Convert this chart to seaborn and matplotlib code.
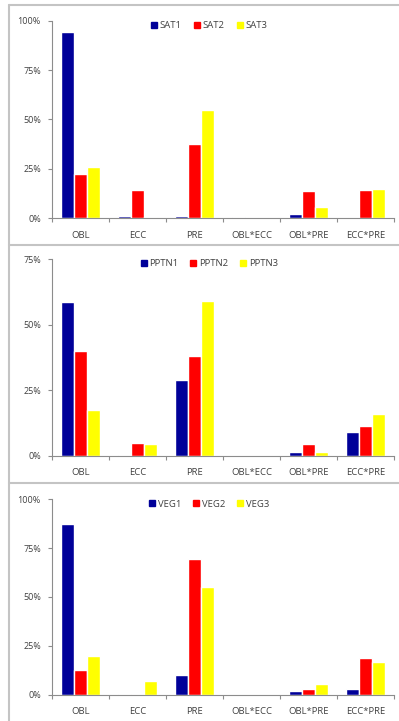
import numpy as np
import pandas as pd
import matplotlib
matplotlib.use("Agg")
import matplotlib.pyplot as plt
from matplotlib.lines import Line2D
from matplotlib.ticker import FixedLocator, PercentFormatter
import seaborn as sns

# Factor categories (x axis)
categories = ["OBL", "ECC", "PRE", "OBL*ECC", "OBL*PRE", "ECC*PRE"]

# Surface air temperature contributions (%)
sat_names = ["SAT1", "SAT2", "SAT3"]
sat1 = [94.4, 1.2, 1.2, 0.7, 2.0, 0.0]
sat2 = [22.4, 14.0, 37.4, 0.0, 13.5, 14.0]
sat3 = [25.8, 0.3, 54.5, 0.0, 5.6, 14.5]

# Precipitation contributions (%)
pptn_names = ["PPTN1", "PPTN2", "PPTN3"]
pptn1 = [58.7, 0.3, 29.0, 0.0, 1.2, 8.9]
pptn2 = [39.9, 4.6, 37.9, 0.0, 4.2, 11.1]
pptn3 = [17.5, 4.5, 59.0, 0.0, 1.2, 15.7]

# Vegetation contributions (%)
veg_names = ["VEG1", "VEG2", "VEG3"]
veg1 = [87.3, 0.3, 9.8, 0.0, 2.0, 2.7]
veg2 = [12.4, 0.3, 69.2, 0.0, 2.7, 18.6]
veg3 = [19.7, 6.8, 55.0, 0.0, 5.4, 16.4]

# Y-axis limits and tick positions per panel
ymax = [100, 75, 100]
yticks = [[0, 25, 50, 75, 100], [0, 25, 50, 75], [0, 25, 50, 75, 100]]

colors = ["#000099", "#FF0000", "#FFFF00"]

sns.set_theme(style="white")
plt.rcParams["font.family"] = ["Open Sans", "DejaVu Sans"]

W, H = 399, 721
fig = plt.figure(figsize=(W / 100, H / 100), dpi=100)


def long_frame(names, series):
    rows = []
    for name, vals in zip(names, series):
        for cat, v in zip(categories, vals):
            rows.append({"factor": cat, "series": name, "value": v})
    return pd.DataFrame(rows)


panels = [
    (sat_names, [sat1, sat2, sat3]),
    (pptn_names, [pptn1, pptn2, pptn3]),
    (veg_names, [veg1, veg2, veg3]),
]

# pixel geometry of each panel: (top of y-range, baseline)
geom = [(20.7, 218.0), (259.0, 455.5), (499.3, 694.5)]
ax_left, ax_right = 52, 394

axis_grey = "#8c8c8c"
text_col = "#404040"

for i, ((names, series), (ytop, ybase)) in enumerate(zip(panels, geom)):
    ax = fig.add_axes([ax_left / W, 1 - ybase / H,
                       (ax_right - ax_left) / W, (ybase - ytop) / H])
    df = long_frame(names, series)
    sns.barplot(data=df, x="factor", y="value", hue="series",
                palette=colors, width=0.67, ax=ax, saturation=1,
                order=categories, hue_order=names, legend=False)
    ax.set_ylim(0, ymax[i])
    ax.set_xlim(-0.5, len(categories) - 0.5)
    ax.set_yticks(yticks[i])
    ax.yaxis.set_major_formatter(PercentFormatter(decimals=0))
    ax.set_xlabel("")
    ax.set_ylabel("")
    for s in ["top", "right"]:
        ax.spines[s].set_visible(False)
    for s in ["left", "bottom"]:
        ax.spines[s].set_color(axis_grey)
        ax.spines[s].set_linewidth(0.8)
    ax.tick_params(axis="y", which="major", direction="out", length=3,
                   width=0.8, color=axis_grey, labelsize=6.5,
                   labelcolor=text_col, pad=5, left=True)
    # category labels without ticks; boundary ticks as minor
    ax.tick_params(axis="x", which="major", length=0, labelsize=6.8,
                   labelcolor=text_col, pad=9)
    ax.xaxis.set_minor_locator(FixedLocator(np.arange(-0.5, len(categories), 1.0)))
    ax.tick_params(axis="x", which="minor", direction="out", length=3,
                   width=0.8, color=axis_grey, bottom=True)

    handles = [Line2D([], [], marker="s", linestyle="", markersize=4.5,
                      markerfacecolor=c, markeredgecolor=c) for c in colors]
    ax.legend(handles, names, loc="center", bbox_to_anchor=(0.46, 0.975),
              ncol=3, frameon=False, fontsize=6.8, handlelength=0.6,
              handletextpad=0.3, columnspacing=1.3, borderaxespad=0,
              labelcolor=text_col)

# panel frames: left edge, top edge and separators
frame_col = "#c4c4c4"
lx = 9 / W
for y in [5, 244.5, 483]:
    fig.add_artist(Line2D([lx, 1], [1 - y / H, 1 - y / H],
                          transform=fig.transFigure, color=frame_col, lw=1.5))
fig.add_artist(Line2D([lx, lx], [1 - 5 / H, 0], transform=fig.transFigure,
                      color=frame_col, lw=1.5))

fig.savefig("out.png", dpi=100, facecolor="white")
